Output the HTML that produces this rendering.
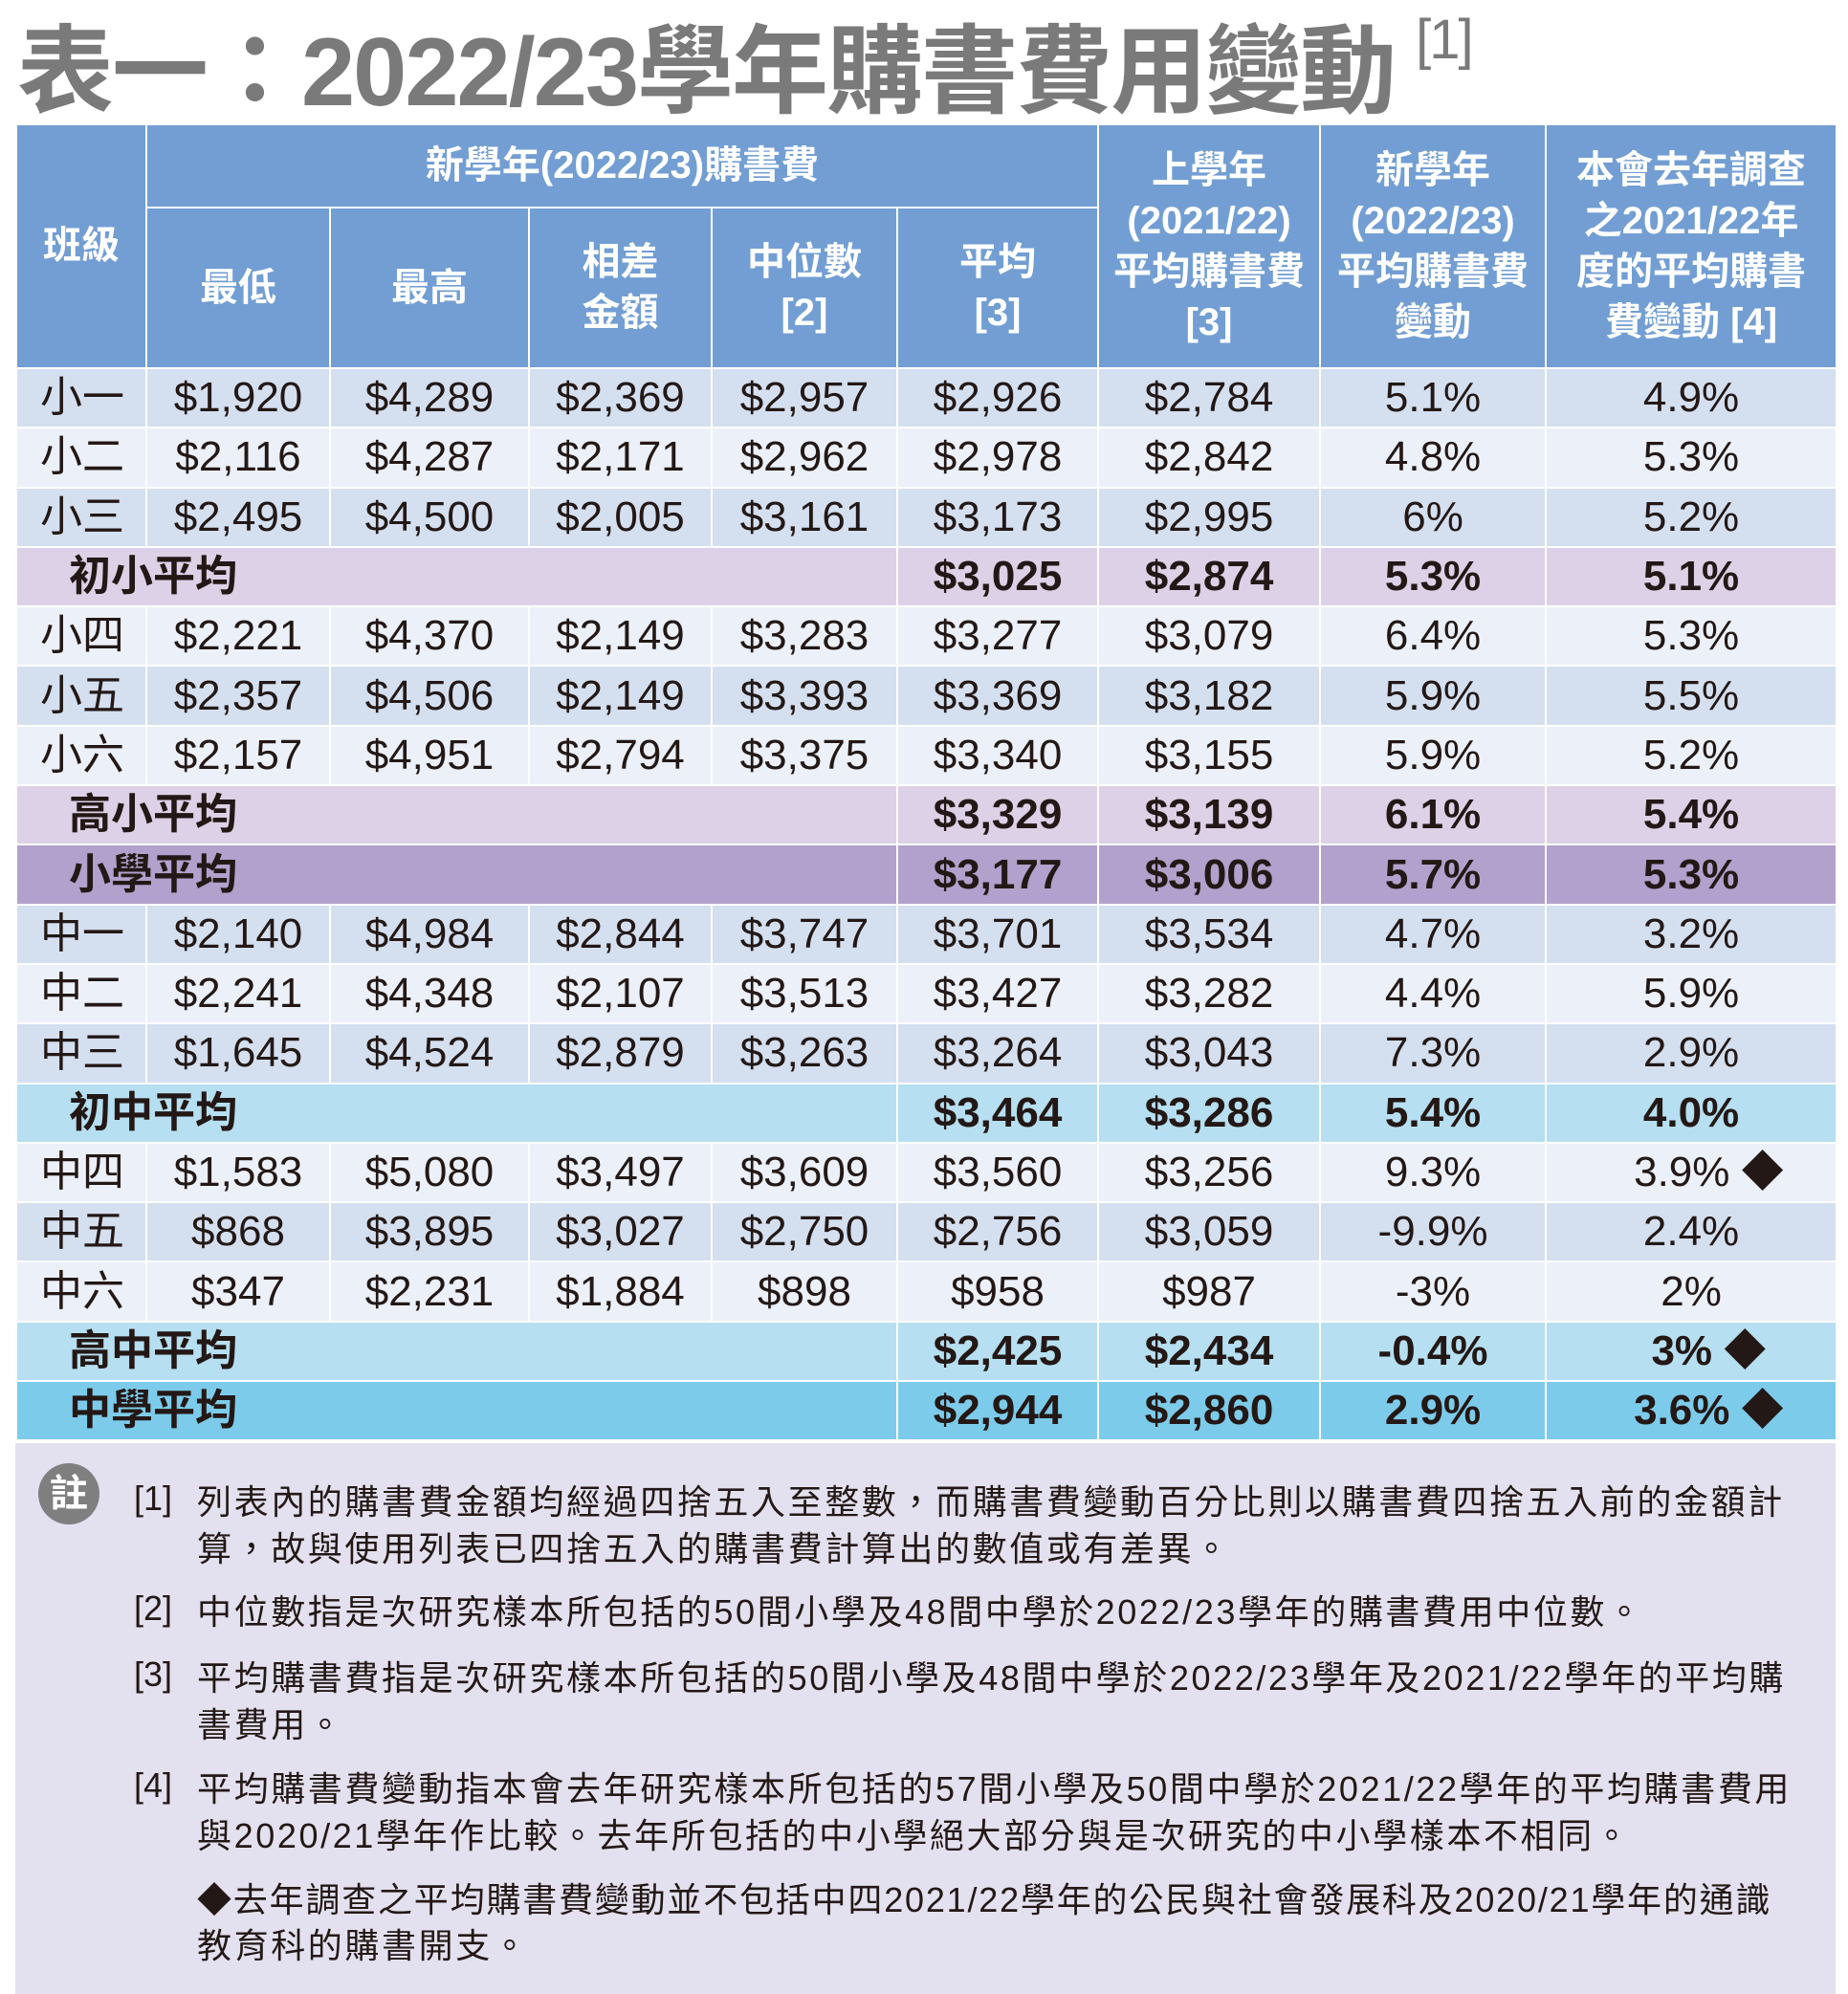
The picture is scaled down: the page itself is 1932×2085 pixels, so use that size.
<!DOCTYPE html>
<html><head><meta charset="utf-8">
<style>
html,body{margin:0;padding:0;background:#fff;}
body{width:1932px;height:2085px;position:relative;overflow:hidden;font-family:"Liberation Sans","Noto Sans CJK TC",sans-serif;color:#231815;}
.title{position:absolute;left:18px;top:-6px;font-size:101px;font-weight:bold;color:#7a7a7a;white-space:nowrap;letter-spacing:-2px;}
.title sup{font-size:58px;font-weight:normal;vertical-align:top;position:relative;top:14px;margin-left:22px;}
table{position:absolute;left:16px;top:129px;border-collapse:collapse;table-layout:fixed;width:1903px;}
td,th{padding:0;border:2px solid #fff;text-align:center;white-space:nowrap;overflow:hidden;}
th{background:#729ed3;color:#fff;font-weight:bold;font-size:40px;line-height:53px;}
td{font-size:44px;line-height:44px;}
tr.r{height:62.3px;}
tr.a td{background:#d4dff0;}
tr.b td{background:#ebf0f9;}
tr.p td{background:#ddd1e7;font-weight:bold;}
tr.q td{background:#b1a1cc;font-weight:bold;}
tr.c td{background:#b6dff1;font-weight:bold;}
tr.d td{background:#7dcbea;font-weight:bold;}
td.l{text-align:left;padding-left:24px;}
td.g{text-align:left;padding-left:54px;}
.notes{position:absolute;left:16px;top:1509px;width:1903px;height:576px;background:#e3e1ef;}
.n{position:absolute;font-size:36px;line-height:49px;white-space:nowrap;letter-spacing:2.6px;}
.k{position:absolute;left:140px;font-size:36px;}
.circ{position:absolute;left:40px;top:1530px;width:64px;height:64px;border-radius:50%;background:#7f7f80;color:#fff;font-size:40px;line-height:64px;text-align:center;font-weight:bold;}
</style></head><body>
<div class="title">表一：2022/23學年購書費用變動<sup>[1]</sup></div>
<table>
<colgroup><col style="width:136px"><col style="width:192px"><col style="width:208px"><col style="width:191px"><col style="width:194px"><col style="width:210px"><col style="width:232px"><col style="width:236px"><col style="width:304px"></colgroup>
<tr style="height:87px"><th rowspan="2">班級</th><th colspan="5">新學年(2022/23)購書費</th><th rowspan="2">上學年<br>(2021/22)<br>平均購書費<br>[3]</th><th rowspan="2">新學年<br>(2022/23)<br>平均購書費<br>變動</th><th rowspan="2">本會去年調查<br>之2021/22年<br>度的平均購書<br>費變動 [4]</th></tr>
<tr style="height:168px"><th>最低</th><th>最高</th><th>相差<br>金額</th><th>中位數<br>[2]</th><th>平均<br>[3]</th></tr>
<tr class="r a"><td class="l">小一</td><td>$1,920</td><td>$4,289</td><td>$2,369</td><td>$2,957</td><td>$2,926</td><td>$2,784</td><td>5.1%</td><td>4.9%</td></tr>
<tr class="r b"><td class="l">小二</td><td>$2,116</td><td>$4,287</td><td>$2,171</td><td>$2,962</td><td>$2,978</td><td>$2,842</td><td>4.8%</td><td>5.3%</td></tr>
<tr class="r a"><td class="l">小三</td><td>$2,495</td><td>$4,500</td><td>$2,005</td><td>$3,161</td><td>$3,173</td><td>$2,995</td><td>6%</td><td>5.2%</td></tr>
<tr class="r p"><td class="g" colspan="5">初小平均</td><td>$3,025</td><td>$2,874</td><td>5.3%</td><td>5.1%</td></tr>
<tr class="r b"><td class="l">小四</td><td>$2,221</td><td>$4,370</td><td>$2,149</td><td>$3,283</td><td>$3,277</td><td>$3,079</td><td>6.4%</td><td>5.3%</td></tr>
<tr class="r a"><td class="l">小五</td><td>$2,357</td><td>$4,506</td><td>$2,149</td><td>$3,393</td><td>$3,369</td><td>$3,182</td><td>5.9%</td><td>5.5%</td></tr>
<tr class="r b"><td class="l">小六</td><td>$2,157</td><td>$4,951</td><td>$2,794</td><td>$3,375</td><td>$3,340</td><td>$3,155</td><td>5.9%</td><td>5.2%</td></tr>
<tr class="r p"><td class="g" colspan="5">高小平均</td><td>$3,329</td><td>$3,139</td><td>6.1%</td><td>5.4%</td></tr>
<tr class="r q"><td class="g" colspan="5">小學平均</td><td>$3,177</td><td>$3,006</td><td>5.7%</td><td>5.3%</td></tr>
<tr class="r a"><td class="l">中一</td><td>$2,140</td><td>$4,984</td><td>$2,844</td><td>$3,747</td><td>$3,701</td><td>$3,534</td><td>4.7%</td><td>3.2%</td></tr>
<tr class="r b"><td class="l">中二</td><td>$2,241</td><td>$4,348</td><td>$2,107</td><td>$3,513</td><td>$3,427</td><td>$3,282</td><td>4.4%</td><td>5.9%</td></tr>
<tr class="r a"><td class="l">中三</td><td>$1,645</td><td>$4,524</td><td>$2,879</td><td>$3,263</td><td>$3,264</td><td>$3,043</td><td>7.3%</td><td>2.9%</td></tr>
<tr class="r c"><td class="g" colspan="5">初中平均</td><td>$3,464</td><td>$3,286</td><td>5.4%</td><td>4.0%</td></tr>
<tr class="r b"><td class="l">中四</td><td>$1,583</td><td>$5,080</td><td>$3,497</td><td>$3,609</td><td>$3,560</td><td>$3,256</td><td>9.3%</td><td>&nbsp;&nbsp;&nbsp;3.9% ◆</td></tr>
<tr class="r a"><td class="l">中五</td><td>$868</td><td>$3,895</td><td>$3,027</td><td>$2,750</td><td>$2,756</td><td>$3,059</td><td>-9.9%</td><td>2.4%</td></tr>
<tr class="r b"><td class="l">中六</td><td>$347</td><td>$2,231</td><td>$1,884</td><td>$898</td><td>$958</td><td>$987</td><td>-3%</td><td>2%</td></tr>
<tr class="r c"><td class="g" colspan="5">高中平均</td><td>$2,425</td><td>$2,434</td><td>-0.4%</td><td>&nbsp;&nbsp;&nbsp;3% ◆</td></tr>
<tr class="r d"><td class="g" colspan="5">中學平均</td><td>$2,944</td><td>$2,860</td><td>2.9%</td><td>&nbsp;&nbsp;&nbsp;3.6% ◆</td></tr>
</table>
<div class="notes"></div>
<div class="circ">註</div>
<div class="k" style="top:1546px">[1]</div>
<div class="n" style="left:206px;top:1546px">列表內的購書費金額均經過四捨五入至整數，而購書費變動百分比則以購書費四捨五入前的金額計</div>
<div class="n" style="left:206px;top:1595px">算，故與使用列表已四捨五入的購書費計算出的數值或有差異。</div>
<div class="k" style="top:1661px">[2]</div>
<div class="n" style="left:206px;top:1661px">中位數指是次研究樣本所包括的50間小學及48間中學於2022/23學年的購書費用中位數。</div>
<div class="k" style="top:1730px">[3]</div>
<div class="n" style="left:206px;top:1730px">平均購書費指是次研究樣本所包括的50間小學及48間中學於2022/23學年及2021/22學年的平均購</div>
<div class="n" style="left:206px;top:1779px">書費用。</div>
<div class="k" style="top:1846px">[4]</div>
<div class="n" style="left:206px;top:1846px">平均購書費變動指本會去年研究樣本所包括的57間小學及50間中學於2021/22學年的平均購書費用</div>
<div class="n" style="left:206px;top:1895px">與2020/21學年作比較。去年所包括的中小學絕大部分與是次研究的中小學樣本不相同。</div>
<div class="n" style="left:206px;top:1962px;letter-spacing:1.8px">◆去年調查之平均購書費變動並不包括中四2021/22學年的公民與社會發展科及2020/21學年的通識</div>
<div class="n" style="left:206px;top:2010px">教育科的購書開支。</div>
</body></html>
